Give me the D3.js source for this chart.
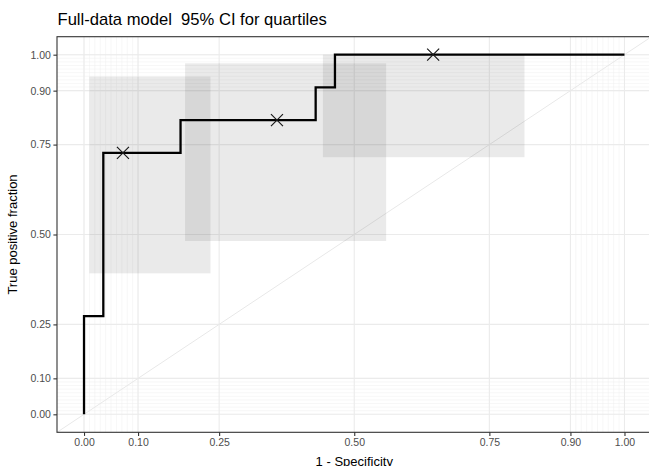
<!DOCTYPE html>
<html>
<head>
<meta charset="utf-8">
<script src="https://cdn.jsdelivr.net/npm/d3@7"></script>
<style>
  html, body { margin: 0; padding: 0; background: #fff; }
  svg { display: block; }
  text { font-family: "Liberation Sans", Arial, sans-serif; }
</style>
</head>
<body>
<svg id="chart" width="649" height="466"></svg>
<script>
// ---- data ----
const title = "Full-data model  95% CI for quartiles";
const xTitle = "1 - Specificity";
const yTitle = "True positive fraction";
const majorBreaks = [0, 0.1, 0.25, 0.5, 0.75, 0.9, 1];
const minorBreaks = [0,0.01,0.02,0.03,0.04,0.05,0.06,0.07,0.08,0.09,0.1,
                     0.9,0.91,0.92,0.93,0.94,0.95,0.96,0.97,0.98,0.99,1];
// ROC curve vertices (false positive fraction, true positive fraction)
const rocFPF = [0, 0, 0.0357, 0.0357, 0.1786, 0.1786, 0.4286, 0.4286, 0.4643, 0.4643, 1.0];
const rocTPF = [0, 0.273, 0.273, 0.727, 0.727, 0.818, 0.818, 0.909, 0.909, 1.0, 1.0];
// cutoff points (quartiles) and their 95% CI rectangles
const cutFPF = [0.072, 0.357, 0.646];
const cutTPF = [0.727, 0.818, 1.0];
const ciFPFLow  = [0.010, 0.187, 0.442];
const ciFPFHigh = [0.234, 0.559, 0.815];
const ciTPFLow  = [0.392, 0.482, 0.715];
const ciTPFHigh = [0.939, 0.976, 1.0];

// ---- layout ----
const svg = d3.select("#chart");
const panel = {left: 57, right: 651.5, top: 36.7, bottom: 432.3};
const x = d3.scaleLinear().domain([-0.05, 1.05]).range([panel.left, panel.right]);
const y = d3.scaleLinear().domain([-0.05, 1.05]).range([panel.bottom, panel.top]);

svg.append("defs").append("clipPath").attr("id", "clip")
  .append("rect").attr("x", panel.left).attr("y", panel.top)
  .attr("width", panel.right - panel.left).attr("height", panel.bottom - panel.top);

const g = svg.append("g").attr("clip-path", "url(#clip)");

// minor grid
g.selectAll(".vminor").data(minorBreaks).join("line")
  .attr("x1", d => x(d)).attr("x2", d => x(d))
  .attr("y1", panel.top).attr("y2", panel.bottom)
  .attr("stroke", "#efefef").attr("stroke-width", 0.5);
g.selectAll(".hminor").data(minorBreaks).join("line")
  .attr("y1", d => y(d)).attr("y2", d => y(d))
  .attr("x1", panel.left).attr("x2", panel.right)
  .attr("stroke", "#efefef").attr("stroke-width", 0.5);
// major grid
g.selectAll(".vmajor").data(majorBreaks).join("line")
  .attr("x1", d => x(d)).attr("x2", d => x(d))
  .attr("y1", panel.top).attr("y2", panel.bottom)
  .attr("stroke", "#ebebeb").attr("stroke-width", 1.1);
g.selectAll(".hmajor").data(majorBreaks).join("line")
  .attr("y1", d => y(d)).attr("y2", d => y(d))
  .attr("x1", panel.left).attr("x2", panel.right)
  .attr("stroke", "#ebebeb").attr("stroke-width", 1.1);

// diagonal reference line
g.append("line")
  .attr("x1", x(-0.05)).attr("y1", y(-0.05))
  .attr("x2", x(1.05)).attr("y2", y(1.05))
  .attr("stroke", "#e8e8e8").attr("stroke-width", 1);

// CI rectangles
const ci = d3.range(cutFPF.length);
g.selectAll(".ci").data(ci).join("rect")
  .attr("x", i => x(ciFPFLow[i]))
  .attr("width", i => x(ciFPFHigh[i]) - x(ciFPFLow[i]))
  .attr("y", i => y(ciTPFHigh[i]))
  .attr("height", i => y(ciTPFLow[i]) - y(ciTPFHigh[i]))
  .attr("fill", "#333333").attr("fill-opacity", 0.1);

// ROC curve
const line = d3.line().x(i => x(rocFPF[i])).y(i => y(rocTPF[i]));
g.append("path").datum(d3.range(rocFPF.length))
  .attr("d", line).attr("fill", "none")
  .attr("stroke", "#000").attr("stroke-width", 2.3)
  .attr("stroke-linejoin", "miter").attr("stroke-linecap", "butt");

// cutoff markers (x shapes)
const s = 6;
g.selectAll(".cut").data(ci).join("path")
  .attr("d", i => {
    const cx = x(cutFPF[i]), cy = y(cutTPF[i]);
    return `M${cx - s},${cy - s}L${cx + s},${cy + s}M${cx - s},${cy + s}L${cx + s},${cy - s}`;
  })
  .attr("stroke", "#1a1a1a").attr("stroke-width", 1.2).attr("fill", "none");

// panel border
svg.append("rect")
  .attr("x", panel.left).attr("y", panel.top)
  .attr("width", panel.right - panel.left).attr("height", panel.bottom - panel.top)
  .attr("fill", "none").attr("stroke", "#333333").attr("stroke-width", 1.1);

// axes
const fmt = d3.format(".2f");
const xAxis = svg.append("g").attr("transform", `translate(0,${panel.bottom})`)
  .call(d3.axisBottom(x).tickValues(majorBreaks).tickFormat(fmt).tickSize(3.6).tickPadding(2.5));
const yAxis = svg.append("g").attr("transform", `translate(${panel.left},0)`)
  .call(d3.axisLeft(y).tickValues(majorBreaks).tickFormat(fmt).tickSize(3.6).tickPadding(2.5));
[xAxis, yAxis].forEach(a => {
  a.select(".domain").remove();
  a.selectAll(".tick line").attr("stroke", "#333333").attr("stroke-width", 1.1);
  a.selectAll(".tick text").attr("fill", "#4d4d4d")
    .style("font-size", "10.5px").style("font-family", "'Liberation Sans', Arial, sans-serif");
});

// titles
svg.append("text").attr("x", 57.5).attr("y", 24.5)
  .style("font-size", "16.6px").style("white-space", "pre").attr("xml:space", "preserve")
  .attr("fill", "#000").text(title);
svg.append("text").attr("x", (panel.left + panel.right) / 2).attr("y", 466)
  .attr("text-anchor", "middle").style("font-size", "13px").attr("fill", "#000").text(xTitle);
svg.append("text")
  .attr("transform", `translate(17,${(panel.top + panel.bottom) / 2}) rotate(-90)`)
  .attr("text-anchor", "middle").style("font-size", "13px").attr("fill", "#000").text(yTitle);
</script>
</body>
</html>
